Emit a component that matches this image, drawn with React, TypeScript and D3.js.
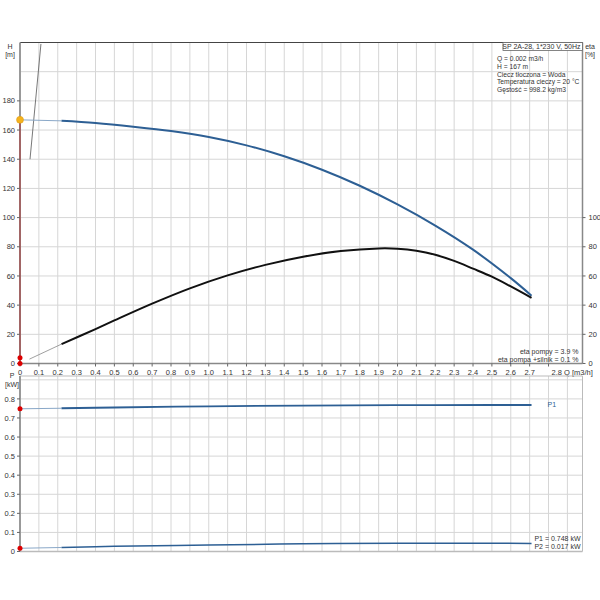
import * as d3 from 'd3';

// flow axis ticks
const qTicks = d3.range(0, 29).map((i) => i / 10);

// H curve [m] vs Q [m3/h]
const headThin = [
  { q: 0, v: 167 },
  { q: 0.22, v: 166.3 },
];
const headCurve = [
  { q: 0.22, v: 166.3 },
  { q: 0.4, v: 164.8 },
  { q: 0.6, v: 162.3 },
  { q: 0.8, v: 159.3 },
  { q: 1.0, v: 155.2 },
  { q: 1.2, v: 149.5 },
  { q: 1.4, v: 142 },
  { q: 1.6, v: 132.8 },
  { q: 1.8, v: 121.8 },
  { q: 2.0, v: 109 },
  { q: 2.2, v: 94.5 },
  { q: 2.4, v: 78 },
  { q: 2.6, v: 58.5 },
  { q: 2.71, v: 46.5 },
];

// efficiency curve [%]
const etaThin = [
  { q: 0.05, v: 3 },
  { q: 0.22, v: 13.3 },
];
const etaCurve = [
  { q: 0.22, v: 13.3 },
  { q: 0.4, v: 23.6 },
  { q: 0.5, v: 29.5 },
  { q: 0.7, v: 41 },
  { q: 0.9, v: 51.5 },
  { q: 1.1, v: 60.4 },
  { q: 1.3, v: 67.6 },
  { q: 1.5, v: 73.2 },
  { q: 1.7, v: 77.1 },
  { q: 1.9, v: 78.9 },
  { q: 2.0, v: 78.7 },
  { q: 2.1, v: 77.3 },
  { q: 2.2, v: 74.5 },
  { q: 2.3, v: 70.3 },
  { q: 2.4, v: 65 },
  { q: 2.5, v: 59.5 },
  { q: 2.6, v: 52.8 },
  { q: 2.71, v: 45 },
];

// thin steep line near the left axis
const steepLine = [
  { q: 0.053, v: 140 },
  { q: 0.111, v: 219 },
];

// power curves [kW]
const p1Thin = [
  { q: 0, v: 0.748 },
  { q: 0.22, v: 0.751 },
];
const p1Curve = [
  { q: 0.22, v: 0.751 },
  { q: 0.5, v: 0.755 },
  { q: 1.0, v: 0.761 },
  { q: 1.5, v: 0.765 },
  { q: 2.0, v: 0.767 },
  { q: 2.5, v: 0.768 },
  { q: 2.71, v: 0.768 },
];
const p2Thin = [
  { q: 0, v: 0.017 },
  { q: 0.22, v: 0.021 },
];
const p2Curve = [
  { q: 0.22, v: 0.021 },
  { q: 0.5, v: 0.027 },
  { q: 1.0, v: 0.034 },
  { q: 1.5, v: 0.04 },
  { q: 2.0, v: 0.043 },
  { q: 2.5, v: 0.043 },
  { q: 2.71, v: 0.042 },
];

const hTicks = [0, 20, 40, 60, 80, 100, 120, 140, 160, 180];
const hGrid = [20, 40, 60, 80, 100, 120, 140, 160, 180, 200];
const etaTicks = [0, 20, 40, 60, 80, 100];
const pTicks = [0, 0.1, 0.2, 0.3, 0.4, 0.5, 0.6, 0.7, 0.8];
const pGrid = [0.1, 0.2, 0.3, 0.4, 0.5, 0.6, 0.7, 0.8, 0.9];

const infoLines = [
  'Q = 0.002 m3/h',
  'H = 167 m',
  'Ciecz tłoczona = Woda',
  'Temperatura cieczy = 20 °C',
  'Gęstość = 998.2 kg/m3',
];
const etaNotes = ['eta pompy = 3.9 %', 'eta pompa +silnik = 0.1 %'];
const powerNotes = ['P1 = 0.748 kW', 'P2 = 0.017 kW'];

const FONT = 'Arial, "Liberation Sans", sans-serif';
const BLUE = '#2d5f94';
const GRID = '#d6d6d6';
const TXT = '#333';

export default function App() {
  const x = d3.scaleLinear().domain([0, 2.98]).range([20, 582.5]);
  const yH = d3.scaleLinear().domain([0, 220]).range([363.5, 42.5]);
  const yP = d3.scaleLinear().domain([0, 0.92]).range([551.5, 376]);

  const lineH = d3
    .line<{ q: number; v: number }>()
    .x((d) => x(d.q))
    .y((d) => yH(d.v))
    .curve(d3.curveCatmullRom.alpha(0.5));
  const lineP = d3
    .line<{ q: number; v: number }>()
    .x((d) => x(d.q))
    .y((d) => yP(d.v))
    .curve(d3.curveCatmullRom.alpha(0.5));

  const [x0, x1] = x.range();
  const fmt = (v: number) => (v === 0 ? '0' : d3.format('.1f')(v));

  return (
    <svg
      width={600}
      height={600}
      style={{ position: 'absolute', left: 0, top: 0, background: '#fff' }}
      fontFamily={FONT}
    >
      {/* ---------- top chart ---------- */}
      <defs>
        <clipPath id="clipTop">
          <rect x={x0} y={yH(220)} width={x1 - x0} height={yH(0) - yH(220)} />
        </clipPath>
      </defs>
      <g>
        {qTicks.slice(1).concat([2.9]).map((q) => (
          <line key={'vt' + q} x1={x(q)} x2={x(q)} y1={yH(0)} y2={yH(220)} stroke={GRID} strokeWidth={1} />
        ))}
        {hGrid.map((h) => (
          <line key={'ht' + h} x1={x0} x2={x1} y1={yH(h)} y2={yH(h)} stroke={GRID} strokeWidth={1} />
        ))}
        <line x1={x0} x2={x1} y1={yH(220)} y2={yH(220)} stroke="#444" strokeWidth={1} />
        <line x1={x1} x2={x1} y1={yH(220)} y2={yH(0)} stroke="#888" strokeWidth={1.5} />
        <line x1={x0} x2={x0} y1={yH(220)} y2={yH(0)} stroke="#999" strokeWidth={2} />
        <line x1={x0} x2={x1} y1={yH(0)} y2={yH(0)} stroke="#888" strokeWidth={1.5} />
        <line x1={x0} x2={x0} y1={yH(167)} y2={yH(0)} stroke="#a33" strokeWidth={1} />

        {hTicks.map((h) => (
          <g key={'hl' + h}>
            <line x1={x0 - 3} x2={x0} y1={yH(h)} y2={yH(h)} stroke="#666" />
            <text x={x0 - 5} y={yH(h)} dy="0.35em" textAnchor="end" fontSize={7.5} fill={TXT}>
              {h}
            </text>
          </g>
        ))}
        {etaTicks.map((e) => (
          <g key={'el' + e}>
            <line x1={x1} x2={x1 + 3} y1={yH(e)} y2={yH(e)} stroke="#666" />
            <text x={x1 + 6} y={yH(e)} dy="0.35em" fontSize={7.5} fill={TXT}>
              {e}
            </text>
          </g>
        ))}
        {qTicks.map((q) => (
          <g key={'ql' + q}>
            <line x1={x(q)} x2={x(q)} y1={yH(0)} y2={yH(0) + 3} stroke="#666" />
            {q < 2.75 && (
              <text x={x(q)} y={yH(0) + 11} textAnchor="middle" fontSize={7.5} fill={TXT}>
                {fmt(q)}
              </text>
            )}
          </g>
        ))}
        <text x={x(2.8) + 3} y={yH(0) + 11} fontSize={7.5} fill={TXT}>
          2.8 Q [m3/h]
        </text>

        <text x={10} y={yH(220) + 6} textAnchor="middle" fontSize={7} fill={TXT}>H</text>
        <text x={10} y={yH(220) + 14} textAnchor="middle" fontSize={7} fill={TXT}>[m]</text>
        <text x={590} y={yH(220) + 6} textAnchor="middle" fontSize={7} fill={TXT}>eta</text>
        <text x={590} y={yH(220) + 14} textAnchor="middle" fontSize={7} fill={TXT}>[%]</text>

        <g clipPath="url(#clipTop)">
          <path d={lineH(steepLine) ?? ''} fill="none" stroke="#555" strokeWidth={0.8} />
        </g>
        <path d={lineH(headThin) ?? ''} fill="none" stroke="#8aa8c8" strokeWidth={1} />
        <path d={lineH(headCurve) ?? ''} fill="none" stroke={BLUE} strokeWidth={2} />
        <path d={lineH(etaThin) ?? ''} fill="none" stroke="#888" strokeWidth={0.8} />
        <path d={lineH(etaCurve) ?? ''} fill="none" stroke="#111" strokeWidth={2} />

        <circle cx={x(0)} cy={yH(167)} r={3.5} fill="#f5b31c" stroke="#d9961a" strokeWidth={0.5} />
        <circle cx={x(0)} cy={yH(3.9)} r={2.5} fill="#d00" />
        <circle cx={x(0)} cy={yH(0)} r={2.5} fill="#d00" />

        <rect x={503} y={yH(220)} width={x1 - 503} height={8} fill="#fff" stroke="#666" strokeWidth={0.8} />
        <text x={x1 - 2} y={yH(220) + 6.3} textAnchor="end" fontSize={7} fill={TXT}>
          SP 2A-28, 1*230 V, 50Hz
        </text>
        {infoLines.map((t, i) => (
          <text key={t} x={497} y={59 + i * 7.7} dy="0.35em" fontSize={6.7} fill={TXT}>
            {t}
          </text>
        ))}
        {etaNotes.map((t, i) => (
          <text key={t} x={x1 - 4} y={351.7 + i * 7.6} dy="0.35em" textAnchor="end" fontSize={7} fill={TXT}>
            {t}
          </text>
        ))}
      </g>

      {/* ---------- bottom chart ---------- */}
      <g>
        {qTicks.slice(1).concat([2.9]).map((q) => (
          <line key={'bv' + q} x1={x(q)} x2={x(q)} y1={yP(0)} y2={yP(0.92)} stroke={GRID} strokeWidth={1} />
        ))}
        {pGrid.map((p) => (
          <line key={'bh' + p} x1={x0} x2={x1} y1={yP(p)} y2={yP(p)} stroke={GRID} strokeWidth={1} />
        ))}
        <line x1={x0} x2={x1} y1={yP(0.92)} y2={yP(0.92)} stroke="#bbb" strokeWidth={1} />
        <line x1={x1} x2={x1} y1={yP(0.92)} y2={yP(0)} stroke="#bbb" strokeWidth={1} />
        <line x1={x0} x2={x1} y1={yP(0)} y2={yP(0)} stroke="#bbb" strokeWidth={1.5} />
        <line x1={x0} x2={x0} y1={yP(0.92)} y2={yP(0)} stroke="#999" strokeWidth={2} />

        {pTicks.map((p) => (
          <g key={'pl' + p}>
            <line x1={x0 - 3} x2={x0} y1={yP(p)} y2={yP(p)} stroke="#666" />
            <text x={x0 - 5} y={yP(p)} dy="0.35em" textAnchor="end" fontSize={7.5} fill={TXT}>
              {fmt(p)}
            </text>
          </g>
        ))}
        <text x={12} y={378} textAnchor="middle" fontSize={7} fill={TXT}>P</text>
        <text x={12} y={387} textAnchor="middle" fontSize={7} fill={TXT}>[kW]</text>

        <path d={lineP(p1Thin) ?? ''} fill="none" stroke="#8aa8c8" strokeWidth={1} />
        <path d={lineP(p1Curve) ?? ''} fill="none" stroke={BLUE} strokeWidth={1.8} />
        <path d={lineP(p2Thin) ?? ''} fill="none" stroke="#8aa8c8" strokeWidth={1} />
        <path d={lineP(p2Curve) ?? ''} fill="none" stroke={BLUE} strokeWidth={1.5} />

        <text x={x(2.71) + 16} y={yP(0.768)} dy="0.35em" fontSize={7} fill={BLUE}>P1</text>
        <circle cx={x(0)} cy={yP(0.748)} r={2.5} fill="#d00" />
        <circle cx={x(0)} cy={yP(0.017)} r={2.5} fill="#d00" />

        {powerNotes.map((t, i) => (
          <text key={t} x={x1 - 2} y={539 + i * 7.4} dy="0.35em" textAnchor="end" fontSize={7} fill={TXT}>
            {t}
          </text>
        ))}
      </g>
    </svg>
  );
}
